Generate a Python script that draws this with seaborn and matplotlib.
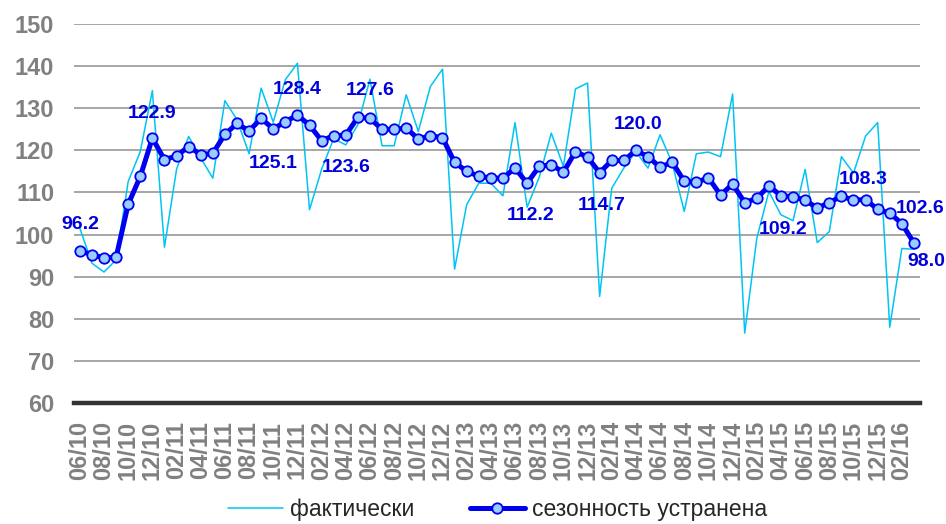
import matplotlib
matplotlib.use('Agg')
import matplotlib.pyplot as plt
import pandas as pd
import seaborn as sns

sns.set_style('white')
plt.rcParams['font.family'] = ['Liberation Sans', 'DejaVu Sans']

# monthly index 06/10 .. 03/16
months = pd.date_range('2010-06-01', periods=70, freq='MS')
month_labels = list(months.strftime('%m/%y'))

fact = [101.5, 93.2, 91.1, 94.0, 112.6, 119.7, 134.2, 97.0, 115.5, 123.3,
        118.2, 113.4, 131.8, 127.3, 119.2, 134.8, 126.7, 136.8, 140.7, 105.9,
        115.5, 122.8, 121.3, 126.1, 136.9, 121.1, 121.1, 133.2, 124.5, 135.2,
        139.3, 91.8, 107.1, 112.2, 112.2, 109.2, 126.6, 106.5, 113.6, 124.1,
        116.2, 134.6, 136.0, 85.3, 111.0, 115.8, 119.7, 115.8, 123.7, 117.0,
        105.5, 119.2, 119.6, 118.5, 133.4, 76.6, 99.1, 110.2, 104.7, 103.3,
        115.5, 98.1, 100.7, 118.5, 114.6, 123.4, 126.6, 78.0, 96.7, 96.5]

sa = [96.2, 95.2, 94.5, 94.6, 107.2, 113.8, 122.9, 117.8, 118.7, 120.9,
      119.0, 119.3, 123.8, 126.4, 124.6, 127.6, 125.1, 126.8, 128.4, 126.0,
      122.3, 123.5, 123.6, 127.9, 127.6, 125.0, 125.0, 125.3, 122.7, 123.5,
      123.0, 117.2, 115.0, 113.9, 113.4, 113.4, 115.8, 112.2, 116.2, 116.6,
      114.8, 119.7, 118.4, 114.7, 117.6, 117.6, 120.0, 118.5, 116.0, 117.2,
      112.7, 112.4, 113.5, 109.4, 112.0, 107.6, 108.6, 111.6, 109.2, 109.0,
      108.2, 106.3, 107.6, 109.1, 108.2, 108.3, 106.0, 105.1, 102.6, 98.0]

# which points get a value label
labelled = [0, 6, 16, 18, 22, 24, 37, 43, 46, 58, 65, 68, 69]

df = pd.DataFrame({'t': range(len(sa)), 'fact': fact, 'sa': sa})

fig = plt.figure(figsize=(9.46, 5.24), dpi=100)
ax = fig.add_axes([0.078, 0.231, 0.8945, 0.723])

sns.lineplot(data=df, x='t', y='fact', ax=ax, color='#00C4F4', lw=1.1,
             label='фактически')
sns.lineplot(data=df, x='t', y='sa', ax=ax, color='#0000F0', lw=3.6,
             marker='o', markersize=7.5, markerfacecolor='#99CCFF',
             markeredgecolor='#0000F0', markeredgewidth=1.3,
             label='сезонность устранена')

ax.set_xlim(-0.5, 69.5)
ax.set_ylim(60, 150)
ax.set_yticks(range(60, 151, 10))
ax.set_xticks(range(0, len(sa), 2))
ax.set_xticklabels(month_labels[::2], rotation=90)
ax.set_xlabel('')
ax.set_ylabel('')

ax.grid(axis='y', color='#A6A6A6', lw=1.4)
ax.set_axisbelow(True)
for s in ['left', 'right', 'top']:
    ax.spines[s].set_visible(False)
ax.spines['bottom'].set_color('#333333')
ax.spines['bottom'].set_linewidth(3.2)
ax.spines['bottom'].set_zorder(2.5)

ax.tick_params(axis='both', length=0, labelsize=17, labelcolor='#808080')
ax.tick_params(axis='y', pad=14)
ax.tick_params(axis='x', pad=13)
for t in ax.get_xticklabels() + ax.get_yticklabels():
    t.set_fontweight('bold')

# value labels
offsets = {0: (0, 26), 6: (0, 25), 16: (0, -35), 18: (0, 26), 22: (0, -32),
           24: (0, 28), 37: (3, -32), 43: (2, -33), 46: (2, 26), 58: (2, -34),
           65: (-2, 20), 68: (18, 15), 69: (12, -19)}
for i in labelled:
    ax.annotate(f'{sa[i]:.1f}', (i, sa[i]), xytext=offsets[i],
                textcoords='offset pixels', ha='center', va='center',
                fontsize=14, fontweight='bold', color='#0000DD')

handles, labels = ax.get_legend_handles_labels()
ax.get_legend().remove()
fig.legend(handles, labels, loc='center', bbox_to_anchor=(0.526, 0.028),
           ncol=2, frameon=False, fontsize=16.5, handlelength=2.4,
           columnspacing=2.4, handletextpad=0.3)

fig.savefig('out.png', dpi=100)
